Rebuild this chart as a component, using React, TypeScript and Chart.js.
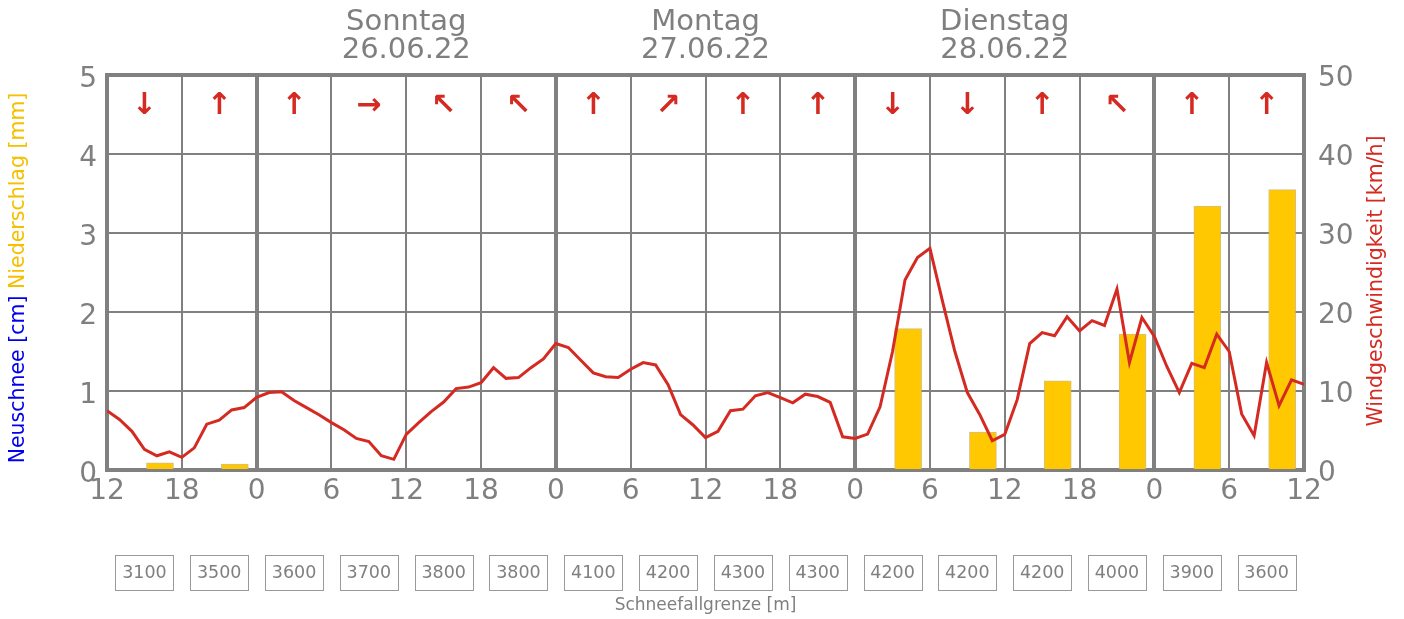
import React, { useEffect, useRef } from "react";
import { Chart, registerables } from "chart.js";

Chart.register(...registerables);

// ---- data ----
// wind speed (km/h), hourly from Saturday 12:00 to Tuesday+1 12:00 (97 points)
const windSpeed = [
  7.5, 6.4, 4.9, 2.6, 1.8, 2.3, 1.6, 2.8, 5.8, 6.3, 7.6, 7.9,
  9.2, 9.8, 9.9, 8.8, 7.9, 7.0, 6.0, 5.1, 4.0, 3.6, 1.8, 1.35,
  4.5, 6.0, 7.4, 8.6, 10.3, 10.5, 11.05, 12.95, 11.6, 11.7, 12.95, 14.05,
  16.0, 15.5, 13.9, 12.3, 11.8, 11.7, 12.75, 13.6, 13.3, 10.8, 7.0, 5.7,
  4.1, 4.9, 7.5, 7.7, 9.4, 9.8, 9.15, 8.5, 9.6, 9.3, 8.55, 4.2,
  4.0, 4.55, 8.0, 15.0, 24.05, 26.9, 28.05, 21.4, 15.0, 9.8, 7.0, 3.7,
  4.5, 8.9, 16.0, 17.4, 17.0, 19.4, 17.6, 18.9, 18.3, 22.9, 13.6, 19.3,
  16.9, 13.1, 9.8, 13.5, 12.95, 17.2, 15.0, 7.1, 4.35, 13.6, 8.15, 11.4,
  10.85,
];

// precipitation bars (mm), hour offsets from start
const precipHours = [4.25, 10.25, 64.25, 70.25, 76.25, 82.25, 88.25, 94.25];
const precipValues = [0.09, 0.075, 1.79, 0.48, 1.13, 1.72, 3.34, 3.55];

// wind direction per 6h period
const windArrows = ["↓", "↑", "↑", "→", "↖", "↖", "↑", "↗", "↑", "↑", "↓", "↓", "↑", "↖", "↑", "↑"];

// snowfall line per 6h period
const snowLine = [3100, 3500, 3600, 3700, 3800, 3800, 4100, 4200, 4300, 4300, 4200, 4200, 4200, 4000, 3900, 3600];

// day headers
const dayNames = ["Sonntag", "Montag", "Dienstag"];
const dayDates = ["26.06.22", "27.06.22", "28.06.22"];
const dayCenterHours = [24, 48, 72];

const GREY = "#7f7f7f";
const RED = "#d42a22";
const FONT = "'DejaVu Sans', sans-serif";

const overlayPlugin = {
  id: "overlay",
  beforeDatasetsDraw(chart: any) {
    const { ctx, chartArea } = chart;
    ctx.save();
    ctx.strokeStyle = "#808080";
    ctx.lineWidth = 4;
    ctx.strokeRect(chartArea.left, chartArea.top, chartArea.right - chartArea.left, chartArea.bottom - chartArea.top);
    ctx.restore();
  },
  afterDraw(chart: any) {
    const { ctx, chartArea } = chart;
    const xs = chart.scales.x;
    ctx.save();
    // day headers
    ctx.fillStyle = GREY;
    ctx.textAlign = "center";
    ctx.textBaseline = "middle";
    ctx.font = `29px ${FONT}`;
    dayNames.forEach((n, i) => {
      const x = xs.getPixelForValue(dayCenterHours[i]);
      ctx.fillText(n, x, 22);
      ctx.fillText(dayDates[i], x, 50);
    });
    // wind arrows
    ctx.fillStyle = RED;
    ctx.font = `bold 30px ${FONT}`;
    windArrows.forEach((a, i) => {
      const x = xs.getPixelForValue(3 + i * 6);
      ctx.fillText(a, x, 106);
    });
    // snowfall boxes
    ctx.font = `17.5px ${FONT}`;
    snowLine.forEach((v, i) => {
      const x = xs.getPixelForValue(3 + i * 6);
      ctx.strokeStyle = "#9a9a9a";
      ctx.lineWidth = 1;
      ctx.strokeRect(Math.round(x - 29) + 0.5, 555.5, 58, 35);
      ctx.fillStyle = GREY;
      ctx.fillText(String(v), x, 573.5);
    });
    ctx.font = `17px ${FONT}`;
    ctx.fillText("Schneefallgrenze [m]", (chartArea.left + chartArea.right) / 2, 606);

    // left title (two colours, rotated)
    const t1 = "Neuschnee [cm] ";
    const t2 = "Niederschlag [mm]";
    ctx.font = `20.5px ${FONT}`;
    const w1 = ctx.measureText(t1).width;
    const w2 = ctx.measureText(t2).width;
    const total = w1 + w2;
    ctx.translate(19, 278);
    ctx.rotate(-Math.PI / 2);
    ctx.textAlign = "left";
    ctx.fillStyle = "#0000ee";
    ctx.fillText(t1, -total / 2, 0);
    ctx.fillStyle = "#f5c000";
    ctx.fillText(t2, -total / 2 + w1, 0);
    ctx.restore();

    // right title
    ctx.save();
    ctx.font = `20.5px ${FONT}`;
    ctx.fillStyle = RED;
    ctx.textAlign = "center";
    ctx.textBaseline = "middle";
    ctx.translate(1377, 281);
    ctx.rotate(-Math.PI / 2);
    ctx.fillText("Windgeschwindigkeit [km/h]", 0, 0);
    ctx.restore();
  },
};

export default function App() {
  const ref = useRef<HTMLCanvasElement | null>(null);
  useEffect(() => {
    document.body.style.margin = "0";
    Chart.defaults.font.family = FONT;
    const chart = new Chart(ref.current as HTMLCanvasElement, {
      type: "bar",
      data: {
        datasets: [
          {
            type: "line",
            label: "Wind",
            data: windSpeed.map((v, i) => ({ x: i, y: v })),
            borderColor: RED,
            borderWidth: 3,
            pointRadius: 0,
            tension: 0,
            yAxisID: "y2",
            order: 0,
          } as any,
          {
            type: "bar",
            label: "Niederschlag",
            data: precipHours.map((h, i) => ({ x: h, y: precipValues[i] })),
            backgroundColor: "#ffc800",
            borderColor: "rgba(200,175,100,0.8)",
            borderWidth: 1,
            barThickness: 27,
            yAxisID: "y",
            order: 1,
          } as any,
        ],
      },
      options: {
        animation: false,
        responsive: false,
        devicePixelRatio: 1,
        layout: { padding: { top: 75, left: 0, right: 0, bottom: 0 } },
        plugins: { legend: { display: false }, tooltip: { enabled: false } },
        scales: {
          x: {
            type: "linear",
            min: 0,
            max: 96,
            offset: false,
            afterFit: (s: any) => { s.height = 149; },
            afterBuildTicks: (s: any) => {
              const t = [];
              for (let v = 0; v <= 96; v += 6) t.push({ value: v });
              s.ticks = t;
            },
            ticks: {
              callback: (v: any) => String((Number(v) + 12) % 24),
              color: GREY,
              font: { size: 28 },
              padding: 5,
              maxRotation: 0,
              autoSkip: false,
            },
            grid: {
              offset: false,
              color: "#808080",
              lineWidth: (c: any) => (c.tick && (c.tick.value - 12) % 24 === 0 ? 4 : 2),
              drawTicks: false,
            },
            border: { display: false },
          },
          y: {
            position: "left",
            min: 0,
            max: 5,
            afterFit: (s: any) => { s.width = 107; },
            ticks: { stepSize: 1, color: GREY, font: { size: 28 }, padding: 10, labelOffset: 5 },
            grid: { color: "#808080", lineWidth: 2, drawTicks: false },
            border: { display: false },
          },
          y2: {
            position: "right",
            min: 0,
            max: 50,
            afterFit: (s: any) => { s.width = 100; },
            ticks: { stepSize: 10, color: GREY, font: { size: 28 }, padding: 14, labelOffset: 4 },
            grid: { display: false, drawTicks: false },
            border: { display: false },
          },
        },
      },
      plugins: [overlayPlugin],
    } as any);
    return () => chart.destroy();
  }, []);
  return (
    <div style={{ position: "absolute", left: 0, top: 0, width: 1404, height: 619 }}>
      <canvas ref={ref} width={1404} height={619} />
    </div>
  );
}
